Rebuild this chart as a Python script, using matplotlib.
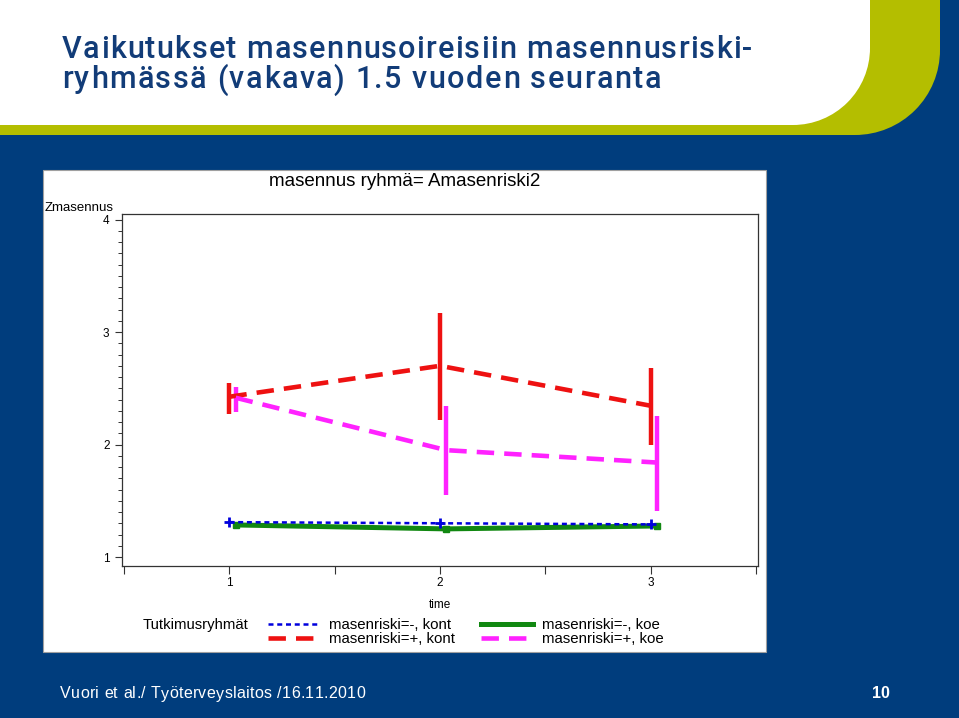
import matplotlib
matplotlib.use("Agg")
import matplotlib.pyplot as plt
from matplotlib.patches import Rectangle, Circle
from matplotlib.ticker import MultipleLocator, FixedLocator, FixedFormatter

# ---------------- data ----------------
time = [1, 2, 3]
time_labels = ["1", "2", "3"]

kont_minus = [1.31, 1.30, 1.29]
kont_minus_lo = [1.30, 1.29, 1.28]
kont_minus_hi = [1.32, 1.31, 1.30]

koe_minus = [1.285, 1.25, 1.276]
koe_minus_lo = [1.275, 1.24, 1.266]
koe_minus_hi = [1.295, 1.26, 1.286]

kont_plus = [2.425, 2.70, 2.345]
kont_plus_lo = [2.273, 2.22, 2.00]
kont_plus_hi = [2.549, 3.17, 2.68]

koe_plus = [2.416, 1.95, 1.84]
koe_plus_lo = [2.29, 1.55, 1.41]
koe_plus_hi = [2.51, 2.345, 2.25]

labels = ["masenriski=-, kont", "masenriski=+, kont",
          "masenriski=-, koe", "masenriski=+, koe"]

# ---------------- figure ----------------
W, H = 959, 718
BLUE_BG = "#003d7d"
GREEN = "#b4be00"
TITLE_C = "#123c78"

plt.rcParams['font.family'] = ['Liberation Sans', 'DejaVu Sans']
fig = plt.figure(figsize=(W / 100, H / 100), dpi=100, facecolor=BLUE_BG)
renderer = fig.canvas.get_renderer()

bg = fig.add_axes([0, 0, 1, 1], zorder=-5)
bg.set_xlim(0, W)
bg.set_ylim(H, 0)
bg.axis("off")


def tracked_text(x, y, s, target_width, **kw):
    """Draw text char by char, spreading letters to fill target_width pixels."""
    tmp = bg.text(0, 0, "aa", **kw)
    w_aa = tmp.get_window_extent(renderer).width
    tmp.set_text("a a")
    w_a_a = tmp.get_window_extent(renderer).width
    tmp.remove()
    space_w = max(w_a_a - w_aa, 2)
    widths = []
    for ch in s:
        if ch == " ":
            widths.append(space_w)
        else:
            t = bg.text(0, 0, ch, **kw)
            widths.append(t.get_window_extent(renderer).width)
            t.remove()
    spacing = (target_width - sum(widths)) / max(len(s) - 1, 1)
    cur = x
    for ch, w in zip(s, widths):
        if ch != " ":
            bg.text(cur, y, ch, ha="left", va="center", **kw)
        cur += w + spacing


# green band with rounded corner
bg.add_patch(Rectangle((0, 0), 940 - 85, 135, color=GREEN, lw=0))
bg.add_patch(Rectangle((0, 0), 940, 135 - 85, color=GREEN, lw=0))
bg.add_patch(Circle((855, 50), 85, color=GREEN, lw=0))
# white header
bg.add_patch(Rectangle((0, 0), 870 - 77, 125, color="white", lw=0))
bg.add_patch(Rectangle((0, 0), 870, 125 - 77, color="white", lw=0))
bg.add_patch(Circle((793, 48), 77, color="white", lw=0))
# white panel
bg.add_patch(Rectangle((43, 170), 723, 482, facecolor="white", edgecolor="#a0a0a0", lw=0.8))

# slide title
title_kw = dict(color=TITLE_C, fontsize=22, fontweight="medium",
                family=["Roboto", "Liberation Sans", "DejaVu Sans"])
tracked_text(62, 50, "Vaikutukset masennusoireisiin masennusriski-", 690, **title_kw)
tracked_text(62, 80, "ryhmässä (vakava) 1.5 vuoden seuranta", 599, **title_kw)

# footer
tracked_text(60, 694, "Vuori et al./ Työterveyslaitos /16.11.2010", 305,
             color="white", fontsize=11.5)
bg.text(881, 694, "10", color="white", fontsize=11.5, fontweight="bold",
        va="center", ha="center")

# panel texts
bg.text(405, 181, "masennus ryhmä= Amasenriski2", fontsize=13.5, va="center", ha="center")
bg.text(45, 208, "Zmasennus", fontsize=9.5, va="center", ha="left")
bg.text(143, 625, "Tutkimusryhmät", fontsize=10.7, va="center", ha="left")

# ---------------- chart ----------------
ax_l, ax_r, ax_t, ax_b = 122, 758, 214, 566
ax = fig.add_axes([ax_l / W, 1 - ax_b / H, (ax_r - ax_l) / W, (ax_b - ax_t) / H])
ax.set_facecolor("white")
ax.set_xlim(0.49, 3.51)
ax.set_ylim(0.92, 4.05)

off = 0.03
t_koe = [t + off for t in time]


def yerr(m, lo, hi):
    return [[a - b for a, b in zip(m, lo)], [b - a for a, b in zip(m, hi)]]


# error bars
ax.errorbar(time, kont_plus, yerr=yerr(kont_plus, kont_plus_lo, kont_plus_hi),
            fmt="none", ecolor="#ee1111", elinewidth=3.2, capsize=0, zorder=3)
ax.errorbar(t_koe, koe_plus, yerr=yerr(koe_plus, koe_plus_lo, koe_plus_hi),
            fmt="none", ecolor="#ff22ff", elinewidth=3.2, capsize=0, zorder=3)
ax.errorbar(time, kont_minus, yerr=yerr(kont_minus, kont_minus_lo, kont_minus_hi),
            fmt="none", ecolor="#0000dd", elinewidth=2, capsize=0, zorder=3)
ax.errorbar(t_koe, koe_minus, yerr=yerr(koe_minus, koe_minus_lo, koe_minus_hi),
            fmt="none", ecolor="#118811", elinewidth=2, capsize=0, zorder=3)

# lines
l1, = ax.plot(time, kont_minus, color="#0000dd", lw=1.8, dashes=(2.0, 1.5),
              marker="+", ms=7, mew=2, zorder=4)
l2, = ax.plot(time, kont_plus, color="#ee1111", lw=3.3, dashes=(3.8, 2.2), zorder=4)
l3, = ax.plot(t_koe, koe_minus, color="#118811", lw=3.6, marker="s", ms=4.5, zorder=3.5)
l4, = ax.plot(t_koe, koe_plus, color="#ff22ff", lw=3.3, dashes=(3.8, 2.2), zorder=4)

# axes styling
for s in ax.spines.values():
    s.set_color("#333333")
    s.set_linewidth(0.9)

ax.yaxis.set_major_locator(FixedLocator([1, 2, 3, 4]))
ax.yaxis.set_minor_locator(MultipleLocator(0.1))
ax.tick_params(axis="y", which="major", length=5, width=0.8, labelsize=8.5, pad=4,
               colors="#333333", labelcolor="black")
ax.tick_params(axis="y", which="minor", length=3, width=0.7, colors="#333333")

xt = [0.5, 1, 1.5, 2, 2.5, 3, 3.5]
xl = ["", "1", "", "2", "", "3", ""]
ax.xaxis.set_major_locator(FixedLocator(xt))
ax.xaxis.set_major_formatter(FixedFormatter(xl))
ax.tick_params(axis="x", which="major", length=6, width=0.8, labelsize=8.5, pad=2,
               colors="#333333", labelcolor="black")
ax.set_xlabel("time", fontsize=8.5, labelpad=7)

# legend
leg = fig.legend([l1, l2, l3, l4], labels, ncol=2, frameon=False,
                 loc="upper left", bbox_to_anchor=(268 / W, 1 - 618 / H),
                 fontsize=10.8, handlelength=3.45, handletextpad=0.6,
                 columnspacing=1.78, labelspacing=0.0, borderpad=0, borderaxespad=0)
for h in leg.legend_handles:
    h.set_marker("")

fig.savefig("out.png", dpi=100, facecolor=BLUE_BG)
